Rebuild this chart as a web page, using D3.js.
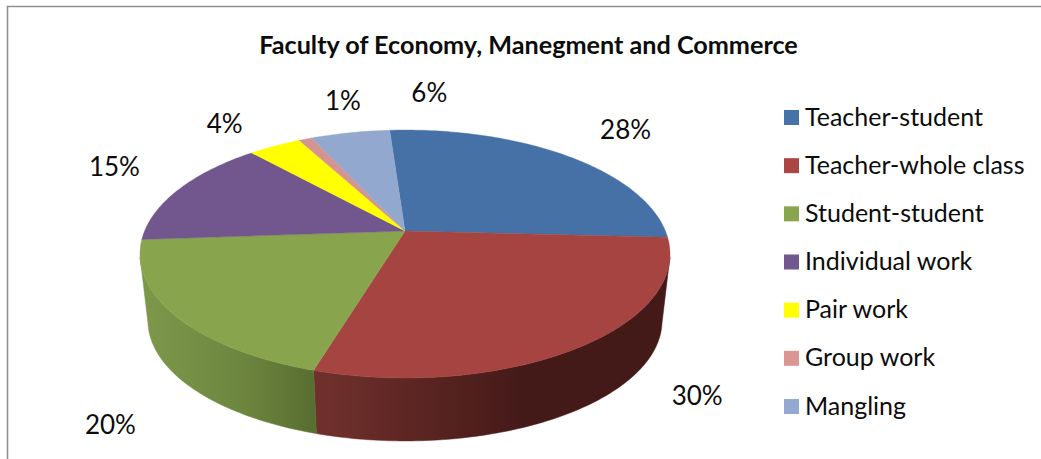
<!DOCTYPE html>
<html>
<head>
<meta charset="utf-8">
<script src="https://cdn.jsdelivr.net/npm/d3@7/dist/d3.min.js"></script>
<style>
  html, body { margin: 0; padding: 0; background: #fff; }
  svg { display: block; }
  text { font-family: Lato, "Open Sans", sans-serif; fill: #0c0c0c; }
</style>
</head>
<body>
<svg id="chart" width="1041" height="459"></svg>
<script>
// Chart content
const chartTitle = "Faculty of Economy, Manegment and Commerce";
const categories = ["Teacher-student", "Teacher-whole class", "Student-student",
                    "Individual work", "Pair work", "Group work", "Mangling"];
const shares = [28, 30, 20, 15, 4, 1, 6];

// Presentation
const faceColors = ["#4671A6", "#A64442", "#88A44D", "#71578D", "#FFFF00", "#D69491", "#92A8CE"];
const keyColors  = ["#4572A7", "#AA4643", "#89A54E", "#71588F", "#FFFF00", "#DB9694", "#93A9CF"];
const labelNudges = [[47, -21], [132, 52], [-55, 127], [-74, -7], [-64, -10], [23, -27], [64, -29.5]];

const svg = d3.select("#chart");

// Frame on the top and left edges
svg.append("path")
  .attr("d", "M7.5,459V6.5H1041")
  .attr("fill", "none").attr("stroke", "#8f8f8f").attr("stroke-width", 1.6);

svg.append("text")
  .attr("x", 528.5).attr("y", 54)
  .attr("text-anchor", "middle")
  .attr("font-size", 25.2).attr("font-weight", 700)
  .text(chartTitle);

// Perspective view of a flat disc: the near edge is drawn larger than the far edge
const cam = { cx: 405, k: 0.1855, a: 260.4, b: 119.7 };
const level = (apexY, s) => angle => {
  const u = Math.sin(angle), v = -Math.cos(angle), w = 1 - cam.k * v;
  return [cam.cx + cam.a * s * u / w, apexY + cam.b * s * v / w];
};
const topRim = level(231, 1);
const lowRim = level(298.4, 0.97);

const rad = d => d * Math.PI / 180;
const firstAngle = rad(-4);
const arcs = d3.pie().sort(null).startAngle(firstAngle).endAngle(firstAngle + 2 * Math.PI)(shares);
const line = d3.line();
const sweep = (a0, a1) => {
  const n = Math.max(2, Math.ceil(Math.abs(a1 - a0) / rad(1)));
  return d3.range(n + 1).map(i => a0 + (a1 - a0) * i / n);
};

// Side wall shading
const defs = svg.append("defs");
const wallStops = {
  1: { x1: 327, x2: 525, stops: ["#6F302D", "#5A2421", "#431A18"] },
  2: { x1: 148, x2: 327, stops: ["#7C974A", "#6E8740", "#556A2E"] }
};
Object.entries(wallStops).forEach(([i, g]) => {
  const grad = defs.append("linearGradient")
    .attr("id", "wall" + i).attr("gradientUnits", "userSpaceOnUse")
    .attr("x1", g.x1).attr("x2", g.x2).attr("y1", 0).attr("y2", 0);
  g.stops.forEach((c, j) => grad.append("stop")
    .attr("offset", j / (g.stops.length - 1)).attr("stop-color", c));
});

// Only the near part of the rim shows a wall
const wallFrom = rad(102), wallTo = rad(258);
arcs.forEach((d, i) => {
  const a0 = Math.max(d.startAngle, wallFrom), a1 = Math.min(d.endAngle, wallTo);
  if (a1 <= a0 || !wallStops[i]) return;
  const pts = sweep(a0, a1).map(topRim).concat(sweep(a1, a0).map(lowRim));
  svg.append("path")
    .attr("d", line(pts) + "Z")
    .attr("fill", `url(#wall${i})`)
    .attr("stroke", `url(#wall${i})`).attr("stroke-width", 0.5);
});

// Top face, one wedge per category
const apex = [cam.cx, 231];
svg.append("g").selectAll("path").data(arcs).join("path")
  .attr("d", d => line([apex, ...sweep(d.startAngle, d.endAngle).map(topRim)]) + "Z")
  .attr("fill", (d, i) => faceColors[i])
  .attr("stroke", (d, i) => faceColors[i]).attr("stroke-width", 0.4);

// Percentage labels, placed relative to each wedge's rim midpoint
const labelAnchor = d => topRim((d.startAngle + d.endAngle) / 2 - firstAngle);
svg.append("g").selectAll("text").data(arcs).join("text")
  .attr("text-anchor", "middle").attr("font-size", 26)
  .attr("x", (d, i) => labelAnchor(d)[0] + labelNudges[i][0])
  .attr("y", (d, i) => labelAnchor(d)[1] + labelNudges[i][1])
  .text(d => d.data + "%");

// Legend
const rowY = d3.scalePoint().domain(categories).range([125, 414]);
const legend = svg.append("g").selectAll("g").data(categories).join("g")
  .attr("transform", d => `translate(784,${rowY(d)})`);
legend.append("rect")
  .attr("y", -15).attr("width", 15).attr("height", 15)
  .attr("fill", (d, i) => keyColors[i]);
legend.append("text")
  .attr("x", 21).attr("y", 0.5).attr("font-size", 25)
  .text(d => d);
</script>
</body>
</html>
